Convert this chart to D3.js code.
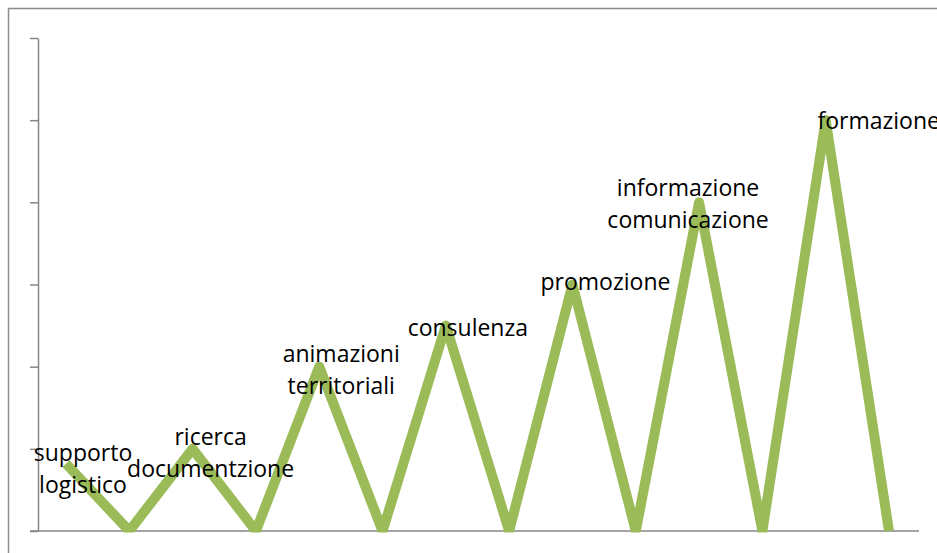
<!DOCTYPE html>
<html><head><meta charset="utf-8">
<script src="https://cdn.jsdelivr.net/npm/d3@7"></script>
<style>html,body{margin:0;padding:0;background:#fff;}svg{display:block;}</style>
</head><body>
<script>
// Data
const categories = ["supporto logistico","","ricerca documentzione","","animazioni territoriali","","consulenza","","promozione","","informazione comunicazione","","formazione",""];
const values = [0.82,0,1,0,2,0,2.5,0,3,0,4,0,5,0];
const yTicks = [0,1,2,3,4,5,6];
// Label layout (offsets from point, in px) – layout only
const labelLines = {0:["supporto","logistico"],2:["ricerca","documentzione"],4:["animazioni","territoriali"],6:["consulenza"],8:["promozione"],10:["informazione","comunicazione"],12:["formazione"]};
const labelDx = {0:17,2:18,4:22,6:22,8:33,10:-11,12:53};
const labelDy = {0:-3,2:-4,4:-5,6:10,8:5,10:-6,12:9};

const W=937,H=553;
const svg=d3.select("body").append("svg").attr("width",W).attr("height",H);
svg.append("rect").attr("x",8.5).attr("y",8.5).attr("width",1200).attr("height",1200)
  .attr("fill","none").attr("stroke","#8c8c8c").attr("stroke-width",1.5);

const x=d3.scalePoint().domain(d3.range(values.length)).range([66,889]);
const y=d3.scaleLinear().domain([0,6]).range([531,38]);

// Y axis
const yAxis=d3.axisLeft(y).tickValues(yTicks).tickSize(8).tickFormat("").tickSizeOuter(0);
const ga=svg.append("g").attr("transform","translate(38,0)").call(yAxis);
ga.select(".domain").attr("stroke","#868686").attr("stroke-width",1.5);
ga.selectAll(".tick line").attr("stroke","#868686").attr("stroke-width",1.5);

// X axis line
svg.append("line").attr("x1",30).attr("x2",919).attr("y1",y(0)).attr("y2",y(0))
  .attr("stroke","#868686").attr("stroke-width",1.5);

svg.append("clipPath").attr("id","clip").append("rect").attr("x",0).attr("y",0).attr("width",W).attr("height",y(0)+1.5);

const line=d3.line().x((d,i)=>x(i)).y(d=>y(d));
svg.append("path").datum(values).attr("d",line).attr("fill","none")
  .attr("stroke","#9BBB59").attr("stroke-width",10).attr("stroke-linejoin","round")
  .attr("clip-path","url(#clip)");

// Labels
const fs=23, lh=32;
Object.keys(labelLines).forEach(k=>{
  const i=+k, lines=labelLines[i];
  const t=svg.append("text").attr("text-anchor","middle")
    .attr("font-family","'Open Sans', sans-serif").attr("font-size",fs).attr("fill","#000");
  lines.forEach((s,j)=>{
    t.append("tspan").attr("x",x(i)+labelDx[i]).attr("y",y(values[i])+labelDy[i]+j*lh).text(s);
  });
});
</script>
</body></html>
